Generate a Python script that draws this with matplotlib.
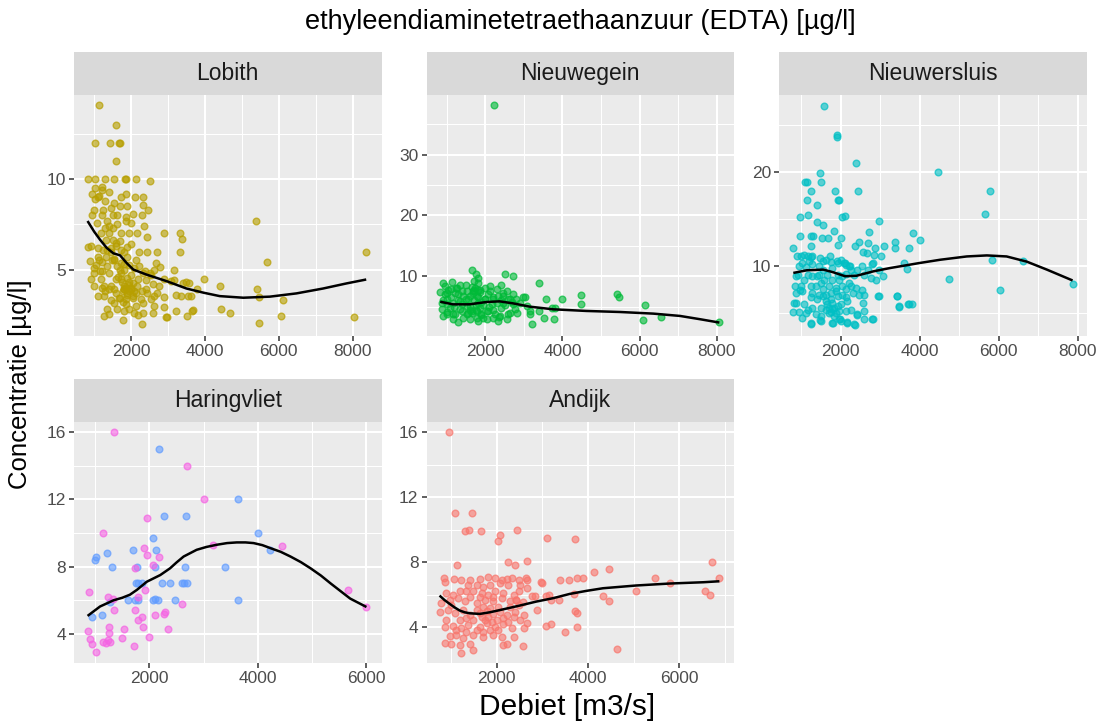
import numpy as np
import matplotlib
matplotlib.use("Agg")
import matplotlib.pyplot as plt
from matplotlib.ticker import FixedLocator

plt.rcParams['font.family'] = ['Liberation Sans', 'DejaVu Sans']

# ---------------------------------------------------------------- data
# Lobith: discharge [m3/s] and EDTA concentration [ug/l]
lobith_q = [1120, 1590, 1030, 1430, 1670, 1690, 1595, 820, 1030, 1290, 1540, 1840, 1860, 2140, 2520,
            1010, 1210, 1225, 940, 1140, 1030, 1090, 1540, 1720, 1870, 2110, 2320, 2320, 2460, 1000,
            1250, 1450, 1610, 1520, 1870, 2060, 2300, 950, 1350, 1070, 1630, 1860, 2350, 2890, 3320,
            3390, 2420, 2170, 1950, 1720, 1400, 1180, 1310, 1520, 910, 820, 1090, 1720, 1900, 2440,
            2710, 3320, 2210, 5390, 1090, 1310, 1490, 1040, 1360, 1630, 1900, 2130, 2210, 2670, 2780,
            2620, 3160, 1220, 1400, 1720, 1990, 2390, 910, 1180, 1580, 1880, 1000, 1220, 1450, 1810,
            2040, 2580, 2760, 2890, 3160, 3410, 3580, 3970, 4420, 1090, 1270, 1580, 1950, 2130, 2440,
            2620, 2890, 3210, 3340, 3610, 3790, 5410, 5460, 1540, 1860, 2130, 2310, 2620, 2890, 1630,
            1810, 2080, 1360, 1400, 1270, 2310, 2580, 2940, 3210, 3520, 3660, 4430, 4690, 1770, 2300,
            5460, 8370, 5690, 6120, 6050, 8050, 2960, 3680, 3080, 3500, 3550, 1750, 1800, 1850, 1900,
            1950, 2000, 1700, 1780, 2050, 1650, 1700, 1800, 1550, 1450, 1350, 1200, 1150, 1000, 880,
            1280, 1450, 2200, 2300, 2400, 2500, 1950, 2200, 1600, 1700, 1800, 2000, 1400, 1300, 2000,
            1500, 1200, 1700, 1900, 1400, 1300,
            1810, 1900, 1990, 2040, 1860, 1950, 1720, 1770, 2080, 2170, 1540, 1680, 1400, 1270, 2260,
            2400, 2530, 2710, 1720, 1810, 1950, 2080, 1540, 2310, 2530, 1000, 1140, 1450, 1230, 1590]
lobith_c = [14.1, 13.0, 12.0, 12.0, 12.0, 12.0, 11.0, 10.0, 10.0, 10.0, 10.0, 10.0, 10.0, 10.0, 9.9,
            9.5, 9.6, 9.4, 9.2, 9.1, 8.9, 9.0, 8.7, 9.0, 9.2, 9.0, 9.0, 8.6, 8.3, 8.3,
            8.3, 8.4, 8.0, 8.0, 7.9, 8.1, 8.0, 8.0, 7.7, 7.6, 7.55, 7.7, 7.4, 7.0, 7.0,
            6.7, 6.8, 7.0, 7.0, 7.05, 7.0, 7.0, 6.65, 6.65, 6.3, 6.25, 6.2, 6.1, 6.25, 6.0,
            6.0, 6.0, 6.0, 7.7, 5.7, 5.7, 5.55, 5.25, 5.2, 5.2, 5.7, 5.55, 5.2, 5.35, 5.15,
            5.0, 5.0, 4.9, 4.8, 4.8, 4.7, 4.9, 4.5, 4.45, 4.45, 4.55, 4.1, 4.0, 4.1, 4.1,
            4.25, 4.2, 4.1, 4.45, 4.4, 4.25, 4.25, 4.5, 4.1, 3.55, 3.55, 3.7, 3.8, 3.7, 3.7,
            3.55, 3.5, 3.6, 3.55, 3.55, 3.9, 3.9, 3.5, 3.15, 3.1, 3.0, 3.15, 3.0, 2.9, 2.8,
            2.7, 2.6, 2.8, 2.55, 2.45, 2.6, 2.6, 2.4, 2.7, 2.45, 2.7, 2.8, 2.6, 2.2, 1.97,
            2.05, 6.0, 5.4, 3.3, 2.45, 2.4, 2.4, 2.75, 4.35, 4.3, 3.55, 4.3, 3.9, 4.0, 3.6,
            4.3, 3.9, 3.4, 3.2, 3.4, 4.6, 5.0, 5.3, 5.6, 6.0, 6.1, 5.4, 4.9, 5.1, 5.5,
            3.8, 3.3, 4.5, 3.8, 4.4, 4.8, 2.8, 2.5, 6.3, 6.6, 6.0, 6.4, 7.4, 7.3, 7.6,
            7.3, 8.0, 8.5, 8.5, 9.3, 8.8,
            3.9, 3.72, 3.99, 3.53, 3.35, 4.17, 4.45, 3.81, 3.81, 4.08, 3.9, 3.44, 3.9, 4.08, 3.35,
            3.9, 3.35, 3.72, 5.37, 5.0, 5.27, 5.09, 5.55, 4.82, 4.72, 4.82, 5.55, 6.19, 6.1, 6.46]
lobith_fit_q = [820, 1000, 1160, 1340, 1520, 1700, 1880, 2060, 2420, 2960, 3500, 3960, 4400, 5040, 5760, 6480, 7200, 7830, 8370]
lobith_fit_c = [7.69, 7.1, 6.65, 6.2, 5.9, 5.79, 5.36, 5.0, 4.72, 4.36, 3.95, 3.72, 3.53, 3.44, 3.5, 3.68, 3.95, 4.23, 4.45]

# Nieuwegein
nieuwegein_q = [1660, 2510, 2710, 1820, 3400, 890, 1130, 1340, 1490, 1820, 2120, 2420, 2310, 2550, 820,
                1000, 1210, 1390, 1690, 1860, 2080, 2730, 2990, 3580, 3980, 4480, 4480, 5410, 5470, 870,
                1080, 1340, 1600, 1860, 2170, 2420, 2770, 3160, 3380, 3720, 910, 1170, 1300, 1520, 1780,
                2040, 2250, 2550, 2810, 3160, 3200, 3510, 3770, 3810, 2220, 6080, 6150, 6560, 8070, 900,
                1000, 1100, 1200, 1300, 1400, 1500, 1600, 1700, 1750, 1800, 1850, 1900, 2000, 2050, 2100,
                2200, 2300, 2400, 2500, 2600, 2700, 2800, 1650, 1700, 1750, 1100, 1250, 1400, 1550, 1650,
                1900, 2200, 2350, 1000, 1150, 950, 1700, 1750, 2000, 2450, 2650, 1300, 1600, 1950,
                950, 1040, 1260, 1430, 1560, 1730, 1780, 1820, 1780, 1900, 1990, 2210, 2340, 2470, 2640,
                2730, 2900, 3030, 3070, 870, 1000, 1170, 1340, 1520, 1650, 2080, 2210, 2380, 2600, 1000,
                1210, 1430, 1600, 1820, 1950, 2340, 1690, 1820, 2120, 2470, 1520]
nieuwegein_c = [11.0, 10.4, 10.0, 9.7, 8.9, 8.9, 9.0, 8.5, 8.5, 8.9, 8.4, 8.6, 7.9, 7.5, 7.4,
                7.3, 7.3, 7.5, 7.3, 7.4, 7.0, 7.0, 6.5, 6.2, 6.2, 6.9, 5.5, 7.1, 6.6, 4.55,
                4.8, 4.55, 5.1, 4.8, 5.4, 4.7, 4.55, 4.3, 4.3, 4.8, 3.5, 2.9, 2.5, 3.7, 3.2,
                2.9, 3.7, 2.9, 4.0, 3.7, 2.1, 3.2, 2.9, 4.8, 38.1, 2.8, 5.2, 3.3, 2.4, 6.0,
                5.5, 6.5, 5.0, 6.0, 5.5, 6.2, 6.8, 6.0, 5.2, 6.5, 7.8, 5.8, 6.3, 4.2, 5.0,
                6.6, 5.6, 6.0, 5.2, 6.3, 5.8, 6.3, 8.2, 9.2, 10.3, 7.9, 8.1, 4.2, 4.0, 3.9,
                3.6, 4.4, 3.3, 4.1, 3.8, 7.0, 7.7, 4.5, 8.0, 6.8, 4.0, 7.0, 4.5, 5.3,
                8.4, 7.8, 8.1, 6.7, 6.2, 8.1, 6.7, 5.6, 4.3, 3.7, 6.2, 6.2, 6.7, 5.6, 6.2,
                5.4, 5.6, 6.5, 5.1, 5.6, 6.2, 5.6, 5.9, 5.1, 4.3, 4.3, 3.2, 3.5, 3.7, 3.7,
                3.7, 3.2, 2.9, 2.6, 3.2, 2.6, 7.5, 7.8, 7.5, 7.3, 7.5]
nieuwegein_fit_q = [830, 1160, 1590, 2030, 2370, 2720, 3150, 3760, 4620, 5490, 6360, 7050, 7570, 8070]
nieuwegein_fit_c = [5.8, 5.37, 5.37, 5.75, 5.86, 5.53, 4.99, 4.55, 4.28, 4.11, 3.84, 3.46, 2.92, 2.37]

# Nieuwersluis
nieuwersluis_q = [1580, 1900, 1900, 2390, 1480, 1100, 1140, 1510, 1860, 1240, 2430, 1920, 1950, 1140, 1390,
                  1180, 970, 2030, 2120, 1390, 1560, 1840, 2980, 970, 1240, 1310, 1520, 1690, 2000, 2720,
                  3820, 4010, 800, 1240, 1920, 2350, 2460, 2700, 2860, 3100, 3380, 3380, 3730, 2560, 2660,
                  2840, 3010, 2830, 3590, 1070, 1180, 1270, 1480, 1730, 1900, 2110, 2240, 3670, 4470, 5780,
                  5650, 5840, 6610, 4730, 6020, 7870, 3420, 3470, 3710, 3800, 2950, 2570, 2360, 2810, 2590,
                  2420, 1800, 1980, 2150, 1240, 1480, 870, 840, 970, 930, 800,
                  900, 990, 1240, 950, 1110, 1280, 1450, 1620, 1750, 1920, 2080, 2210, 1540, 1790, 2420,
                  2340, 2550, 2680, 2800, 2970, 3060, 2890, 2760, 2590, 2130, 860, 1070, 1280, 1450, 1660,
                  1960, 2210, 2380, 2550, 2590, 990, 1240, 1490, 1710, 1870, 2040, 2300, 860, 1030, 1280,
                  1540, 1750, 1920, 2130, 2470, 1240, 1410, 1620, 1790, 2000, 2170, 820, 1070, 1280, 1490,
                  1710, 1830, 1960, 2130, 2250, 2420, 2590, 950, 1160, 1370, 1620, 1750, 1870, 1240, 1490,
                  1790, 2000, 2170, 2340, 2800, 2960, 3420, 3480, 3730,
                  1700, 1790, 1830, 1920, 1660, 1750, 1620, 1540, 1370, 1450, 1870, 2040, 2130, 2250, 1410,
                  1580, 1790, 1920, 2040, 1160, 1030, 1200, 1540, 2000, 2130, 2250, 1110, 1030, 1490, 1960]
nieuwersluis_c = [27.0, 24.0, 23.7, 21.0, 19.9, 19.0, 19.0, 19.0, 18.0, 18.0, 18.0, 17.0, 17.0, 17.0, 16.5,
                  15.5, 15.2, 15.2, 15.4, 14.7, 14.4, 13.8, 14.8, 13.2, 13.2, 13.2, 13.0, 13.0, 13.0, 13.6,
                  13.5, 12.8, 12.0, 12.2, 12.3, 12.2, 12.6, 12.5, 12.0, 12.2, 12.6, 11.9, 12.0, 11.5, 11.4,
                  11.2, 11.05, 10.35, 10.35, 11.2, 11.05, 11.05, 10.9, 11.05, 10.6, 10.35, 10.0, 9.7, 20.0, 18.0,
                  15.6, 10.7, 10.6, 8.7, 7.5, 8.1, 6.8, 5.7, 6.0, 6.0, 6.8, 6.1, 3.8, 4.45, 4.4,
                  4.8, 4.0, 4.4, 4.1, 3.9, 4.3, 6.1, 7.95, 7.5, 9.1, 5.2,
                  11.05, 11.05, 11.0, 10.07, 9.93, 10.2, 10.0, 10.7, 10.5, 10.35, 10.4, 10.0, 9.65, 9.8, 9.65,
                  9.1, 10.0, 9.65, 10.2, 9.65, 8.95, 8.6, 8.8, 9.1, 9.2, 8.95, 8.6, 8.95, 9.1, 9.1,
                  8.6, 8.25, 7.7, 7.5, 7.0, 7.9, 7.9, 8.25, 7.9, 7.7, 7.9, 7.2, 7.2, 7.4, 7.2,
                  6.85, 7.2, 6.85, 6.7, 7.0, 6.7, 6.5, 6.3, 6.1, 5.95, 6.3, 6.1, 5.95, 5.6, 5.6,
                  5.6, 5.6, 5.25, 5.25, 5.4, 4.9, 5.25, 5.15, 5.4, 4.9, 5.4, 5.15, 5.0, 3.95, 4.2,
                  4.0, 4.2, 3.95, 3.85, 4.45, 6.8, 6.8, 5.8, 6.0,
                  5.09, 5.44, 4.73, 5.79, 5.96, 6.49, 7.0, 7.54, 7.9, 7.0, 7.37, 7.0, 7.54, 7.9, 8.95,
                  8.6, 8.6, 9.12, 8.95, 9.12, 10.35, 10.53, 10.53, 10.7, 10.18, 9.65, 5.09, 4.56, 4.73, 4.38]
nieuwersluis_fit_q = [800, 1140, 1560, 1810, 2110, 2400, 2830, 3250, 3990, 4520, 5190, 5700, 6200, 6710, 7220, 7870]
nieuwersluis_fit_c = [9.3, 9.58, 9.65, 9.37, 8.95, 9.0, 9.47, 9.82, 10.35, 10.7, 11.05, 11.16, 11.05, 10.5, 9.65, 8.5]

# Haringvliet (two sampling points)
haringvliet_a_q = [1340, 2700, 3010, 1950, 1140, 3180, 4440, 1900, 1950, 2170, 2070, 1740, 890, 1240, 1320,
                   1790, 1920, 2600, 1350, 1740, 1860, 1790, 2290, 2260, 2100, 1260, 1260, 860, 1540, 1890,
                   2340, 1500, 1990, 900, 950, 1150, 1200, 1270, 1230, 1020, 1710, 5660, 6000]
haringvliet_a_c = [16.0, 14.0, 12.0, 10.9, 10.0, 9.3, 9.24, 9.1, 8.7, 8.56, 8.1, 7.9, 6.5, 6.2, 6.1,
                   6.2, 6.6, 5.8, 5.4, 5.4, 5.0, 4.85, 5.3, 5.2, 5.1, 4.4, 4.05, 4.2, 4.3, 4.4,
                   4.3, 3.75, 3.8, 3.7, 3.4, 3.5, 3.45, 3.5, 3.65, 2.9, 3.3, 6.6, 5.6]
haringvliet_b_q = [2170, 2270, 2680, 3640, 4010, 4230, 2060, 1690, 2120, 1210, 1020, 990, 1310, 1770, 2110,
                   2650, 3400, 1750, 1790, 1860, 2230, 2370, 2600, 2630, 2690, 1610, 1740, 1790, 2060, 2110,
                   2150, 2480, 3640, 1270, 1120, 940]
haringvliet_b_c = [15.0, 11.0, 11.0, 12.0, 10.0, 9.0, 9.7, 9.0, 9.0, 8.8, 8.6, 8.4, 8.0, 8.0, 8.0,
                   8.0, 8.0, 7.0, 7.0, 7.0, 7.0, 7.0, 7.0, 7.0, 7.0, 6.0, 6.0, 6.0, 6.0, 6.1,
                   6.0, 6.0, 6.0, 5.9, 5.1, 5.0]
haringvliet_fit_q = [860, 1090, 1340, 1500, 1640, 1770, 1950, 2200, 2380, 2500, 2630, 2870, 3050, 3240, 3430,
                     3610, 3770, 3920, 4080, 4230, 4420, 4600, 4790, 4970, 5160, 5340, 5520, 5700, 6000]
haringvliet_fit_c = [5.07, 5.63, 6.0, 6.15, 6.33, 6.62, 7.1, 7.5, 7.9, 8.25, 8.6, 9.0, 9.17, 9.3, 9.4,
                     9.44, 9.44, 9.4, 9.28, 9.1, 8.88, 8.6, 8.27, 7.9, 7.47, 7.0, 6.55, 6.1, 5.6]

# Andijk
andijk_q = [950, 1090, 1460, 1300, 1390, 1660, 2040, 2080, 2440, 3100, 3720, 1140, 2240, 2400, 2660,
            4140, 4470, 6720, 6880, 5790, 5480, 5050, 6570, 6670, 4320, 4460, 3720, 3750, 3080, 3200,
            3490, 3770, 4630, 2890, 2980, 3380, 3580, 3760, 3900, 3690, 3370, 3150, 3090, 2780, 2650,
            2500, 2580, 2430, 2830, 3190,
            850, 870, 1070, 1230, 1420, 1640, 1820, 1960, 2110, 2220, 2330, 2480, 2660, 2990, 1380,
            1560, 1710, 1850, 2070, 2260, 2510, 2660, 900, 1050, 1200, 1340, 1490, 1670, 1820, 1960,
            2150, 2370, 790, 980, 1160, 1310, 1560, 1740, 1930, 2110, 2290, 2430, 760, 940, 1090,
            1270, 1420, 1640, 1780, 1930, 2070, 2220, 2400, 2590, 870, 1050, 1230, 1380, 1640, 1780,
            1960, 2150, 2330, 2590, 980, 1120, 1270, 1490, 1710, 1930, 2110, 2220, 1420, 1200, 1010,
            870, 1230, 1490, 2150, 2370, 2570,
            1670, 1740, 1820, 1890, 2000, 1710, 1850, 2040, 1560, 1490, 1340, 1200, 2150, 2260, 2370,
            2510, 2660, 1560, 1710, 1850, 2040, 1340, 1120, 900, 1010, 1420, 1640, 1930, 2290, 2480]
andijk_c = [16.0, 11.0, 11.0, 9.9, 10.0, 9.9, 9.3, 9.7, 10.0, 9.5, 9.4, 7.8, 8.0, 7.8, 8.1,
            7.4, 7.6, 8.0, 7.0, 6.7, 7.0, 6.2, 6.2, 6.0, 5.95, 5.6, 5.0, 4.85, 4.1, 4.2,
            3.7, 4.0, 2.65, 5.07, 6.8, 6.9, 6.9, 7.0, 7.0, 6.05, 5.65, 6.0, 5.95, 5.95, 7.0,
            6.25, 5.55, 5.7, 5.9, 5.65,
            7.0, 6.8, 6.98, 6.9, 6.9, 6.98, 7.1, 7.0, 6.9, 6.98, 7.05, 6.9, 6.9, 6.7, 6.6,
            6.6, 6.5, 6.6, 6.7, 6.6, 6.6, 6.4, 6.1, 6.0, 6.2, 6.2, 6.25, 6.1, 6.0, 6.2,
            6.1, 6.0, 5.5, 5.7, 5.8, 5.6, 5.5, 5.7, 5.6, 5.8, 5.6, 5.7, 4.96, 5.06, 4.85,
            5.06, 4.75, 4.85, 5.0, 4.8, 4.96, 4.75, 4.96, 4.75, 4.04, 4.08, 3.93, 4.14, 4.04, 4.25,
            4.04, 4.2, 3.93, 3.93, 3.47, 3.53, 3.32, 3.53, 3.43, 3.53, 3.43, 2.98, 2.98, 2.92, 2.98,
            3.0, 2.44, 2.57, 2.92, 3.43, 2.86,
            4.66, 4.45, 4.66, 4.35, 4.45, 5.27, 5.17, 5.27, 5.06, 4.45, 4.55, 4.45, 4.55, 4.35, 4.66,
            4.45, 4.25, 3.84, 3.73, 3.84, 3.84, 3.73, 3.84, 4.45, 5.37, 5.88, 5.88, 5.88, 5.27, 5.37]
andijk_fit_q = [750, 860, 970, 1080, 1190, 1300, 1410, 1630, 1850, 2140, 2500, 2870, 3240, 3600, 3970, 4330, 5060, 5790, 6530, 6880]
andijk_fit_c = [5.95, 5.67, 5.44, 5.22, 5.03, 4.92, 4.86, 4.82, 4.92, 5.1, 5.33, 5.58, 5.79, 6.05, 6.24, 6.4, 6.57, 6.69, 6.77, 6.83]

# ---------------------------------------------------------------- style
hue = {'Andijk': '#F8766D', 'Lobith': '#B79F00', 'Nieuwegein': '#00BA38',
       'Nieuwersluis': '#00BFC4', 'Haringvliet_b': '#619CFF', 'Haringvliet_a': '#F564E3'}

W, H = 1099, 723
fig = plt.figure(figsize=(W / 100, H / 100), dpi=100)


def box(l, t, r, b):
    return [l / W, 1 - b / H, (r - l) / W, (b - t) / H]


cols = [(74, 381.5), (426.5, 734), (779, 1087)]
rows = [(51.5, 95, 336), (379, 422, 663)]

panels = [
    dict(name='Lobith', cell=(0, 0), xlim=(453, 8784), ylim=(1.32, 14.67),
         xt=[2000, 4000, 6000, 8000], xm=[1000, 3000, 5000, 7000],
         yt=[5, 10], ym=[2.5, 7.5, 12.5],
         series=[(lobith_q, lobith_c, hue['Lobith'])], fit=(lobith_fit_q, lobith_fit_c)),
    dict(name='Nieuwegein', cell=(0, 1), xlim=(475, 8450), ylim=(0.16, 39.8),
         xt=[2000, 4000, 6000, 8000], xm=[1000, 3000, 5000, 7000],
         yt=[10, 20, 30], ym=[5, 15, 25, 35],
         series=[(nieuwegein_q, nieuwegein_c, hue['Nieuwegein'])], fit=(nieuwegein_fit_q, nieuwegein_fit_c)),
    dict(name='Nieuwersluis', cell=(0, 2), xlim=(438, 8235), ylim=(2.6, 28.2),
         xt=[2000, 4000, 6000, 8000], xm=[1000, 3000, 5000, 7000],
         yt=[10, 20], ym=[5, 15, 25],
         series=[(nieuwersluis_q, nieuwersluis_c, hue['Nieuwersluis'])], fit=(nieuwersluis_fit_q, nieuwersluis_fit_c)),
    dict(name='Haringvliet', cell=(1, 0), xlim=(610, 6277), ylim=(2.27, 16.6),
         xt=[2000, 4000, 6000], xm=[1000, 3000, 5000],
         yt=[4, 8, 12, 16], ym=[6, 10, 14],
         series=[(haringvliet_b_q, haringvliet_b_c, hue['Haringvliet_b']),
                 (haringvliet_a_q, haringvliet_a_c, hue['Haringvliet_a'])],
         fit=(haringvliet_fit_q, haringvliet_fit_c)),
    dict(name='Andijk', cell=(1, 1), xlim=(464, 7200), ylim=(1.8, 16.63),
         xt=[2000, 4000, 6000], xm=[1000, 3000, 5000, 7000],
         yt=[4, 8, 12, 16], ym=[6, 10, 14],
         series=[(andijk_q, andijk_c, hue['Andijk'])], fit=(andijk_fit_q, andijk_fit_c)),
]

for p in panels:
    r, c = p['cell']
    l, rr = cols[c]
    st, pt, pb = rows[r]

    ax = fig.add_axes(box(l, pt, rr, pb))
    ax.set_facecolor('#EBEBEB')
    for s in ax.spines.values():
        s.set_visible(False)
    ax.set_xlim(*p['xlim'])
    ax.set_ylim(*p['ylim'])
    ax.xaxis.set_major_locator(FixedLocator(p['xt']))
    ax.xaxis.set_minor_locator(FixedLocator(p['xm']))
    ax.yaxis.set_major_locator(FixedLocator(p['yt']))
    ax.yaxis.set_minor_locator(FixedLocator(p['ym']))
    ax.set_xticklabels([str(v) for v in p['xt']])
    ax.set_yticklabels([str(v) for v in p['yt']])
    ax.grid(which='major', color='white', linewidth=1.45)
    ax.grid(which='minor', color='white', linewidth=0.75)
    ax.set_axisbelow(True)
    ax.tick_params(which='major', length=3.3, width=1.1, color='#333333',
                   labelcolor='#4D4D4D', labelsize=12.5, pad=2.5)
    ax.tick_params(which='minor', length=0)

    for q, conc, col in p['series']:
        rgb = matplotlib.colors.to_rgb(col)
        ax.scatter(q, conc, s=23, facecolor=rgb + (0.62,), edgecolor=rgb + (0.7,),
                   linewidth=1.0, zorder=3)
    fq, fc = p['fit']
    ax.plot(fq, fc, color='black', linewidth=1.8, zorder=4,
            solid_capstyle='butt', solid_joinstyle='round')

    sax = fig.add_axes(box(l, st, rr, pt))
    sax.set_facecolor('#D9D9D9')
    sax.set_xticks([])
    sax.set_yticks([])
    for s in sax.spines.values():
        s.set_visible(False)
    sax.text(0.5, 0.5, p['name'], ha='center', va='center', fontsize=16.5,
             color='#1A1A1A', transform=sax.transAxes)

fig.text(580 / W, 1 - 22 / H, 'ethyleendiaminetetraethaanzuur (EDTA) [µg/l]',
         ha='center', va='center', fontsize=19.5, color='black')
fig.text(20 / W, 1 - 384 / H, 'Concentratie [µg/l]', rotation=90,
         ha='center', va='center', fontsize=18.5, color='black')
fig.text(567 / W, 1 - 707 / H, 'Debiet [m3/s]', ha='center', va='center',
         fontsize=21.5, color='black')

fig.savefig('out.png', dpi=100, facecolor='white')
